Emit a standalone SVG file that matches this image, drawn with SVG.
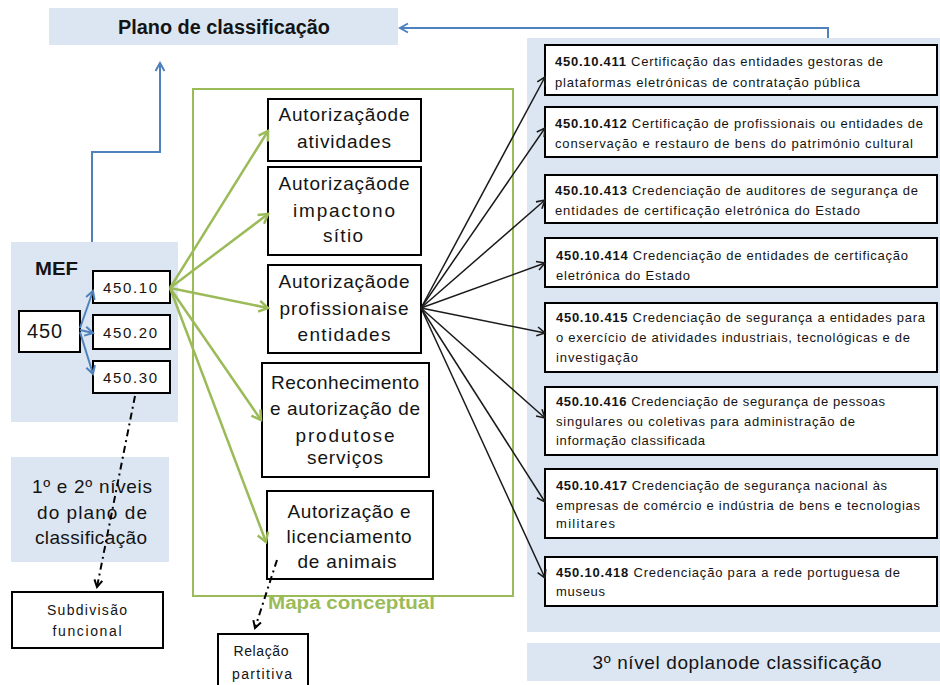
<svg xmlns="http://www.w3.org/2000/svg" width="940" height="685" viewBox="0 0 940 685">
<style>
 .t{font-family:"Liberation Sans",Arial,sans-serif;fill:#141414}
 .box{fill:#fff;stroke:#000;stroke-width:2}
 .panel{fill:#dce6f2}
 .node{font-size:19px;text-anchor:middle}
 .code{font-size:13px}
 .g{stroke:#9bbb59;stroke-width:2.5;fill:none}
 .k{stroke:#1a1a1a;stroke-width:1.5;fill:none}
 .b{stroke:#4f81bd;stroke-width:2;fill:none}
 .dd{stroke:#000;stroke-width:2;stroke-dasharray:7 4 2 4;fill:none}
</style>
<defs>
 <marker id="ag" markerUnits="userSpaceOnUse" markerWidth="14" markerHeight="14" refX="12" refY="7" orient="auto"><path d="M3,1.5 L12,7 L3,12.5" fill="none" stroke="#9bbb59" stroke-width="2.5"/></marker>
 <marker id="ak" markerUnits="userSpaceOnUse" markerWidth="12" markerHeight="12" refX="10" refY="6" orient="auto"><path d="M2,1.5 L10,6 L2,10.5" fill="none" stroke="#1a1a1a" stroke-width="1.6"/></marker>
 <marker id="ab" markerUnits="userSpaceOnUse" markerWidth="12" markerHeight="12" refX="10" refY="6" orient="auto"><path d="M2,1.5 L10,6 L2,10.5" fill="none" stroke="#4f81bd" stroke-width="2"/></marker>
 <marker id="ad" markerUnits="userSpaceOnUse" markerWidth="12" markerHeight="12" refX="10" refY="6" orient="auto"><path d="M3,2 L10,6 L3,10" fill="none" stroke="#000" stroke-width="2"/></marker>
</defs>
<rect width="940" height="685" fill="#fff"/>

<g id="plano">
 <rect class="panel" x="49" y="8" width="349" height="37"/>
 <text class="t" x="224" y="34" font-size="20" font-weight="bold" text-anchor="middle" textLength="212" lengthAdjust="spacingAndGlyphs">Plano de classificação</text>
</g>

<g id="mef">
 <rect class="panel" x="11" y="242" width="167" height="180"/>
 <text class="t" x="35" y="275" font-size="19" font-weight="bold" textLength="43" lengthAdjust="spacingAndGlyphs">MEF</text>
</g>

<g id="n450">
 <rect class="box" x="19" y="311" width="61" height="41"/>
 <text class="t" x="27" y="338" font-size="20" textLength="35">450</text>
</g>
<g id="n450-10">
 <rect class="box" x="93" y="271" width="77" height="32"/>
 <text class="t" x="103" y="293" font-size="15" textLength="54">450.10</text>
</g>
<g id="n450-20">
 <rect class="box" x="93" y="315" width="77" height="34"/>
 <text class="t" x="103" y="338" font-size="15" textLength="54">450.20</text>
</g>
<g id="n450-30">
 <rect class="box" x="93" y="361" width="77" height="32"/>
 <text class="t" x="103" y="383" font-size="15" textLength="54">450.30</text>
</g>

<g id="niveis12">
 <rect class="panel" x="11" y="457" width="158" height="105"/>
 <text class="t node" x="92" y="493" textLength="120">1º e 2º níveis</text>
 <text class="t node" x="92" y="519" textLength="110">do plano de</text>
 <text class="t node" x="91" y="544" textLength="112">classificação</text>
</g>

<g id="subdivisao">
 <rect class="box" x="12" y="592" width="151" height="56"/>
 <text class="t" x="87" y="615" font-size="14" text-anchor="middle" textLength="80">Subdivisão</text>
 <text class="t" x="87" y="636" font-size="14" text-anchor="middle" textLength="69">funcional</text>
</g>

<g id="mapa">
 <rect x="193" y="89" width="320" height="507" fill="none" stroke="#9bbb59" stroke-width="2"/>
 <text x="268" y="609" font-family="Liberation Sans,Arial,sans-serif" font-size="18" font-weight="bold" fill="#9bbb59" textLength="167" lengthAdjust="spacingAndGlyphs">Mapa conceptual</text>
</g>

<g id="c1">
 <rect class="box" x="268" y="99" width="153" height="62"/>
 <text class="t node" x="344" y="121" textLength="131">Autorizaçãode</text>
 <text class="t node" x="344" y="148" textLength="94">atividades</text>
</g>
<g id="c2">
 <rect class="box" x="268" y="167" width="153" height="88"/>
 <text class="t node" x="344" y="190" textLength="131">Autorizaçãode</text>
 <text class="t node" x="344" y="217" textLength="102">impactono</text>
 <text class="t node" x="343" y="242" textLength="40">sítio</text>
</g>
<g id="c3">
 <rect class="box" x="268" y="265" width="153" height="88"/>
 <text class="t node" x="344" y="288" textLength="131">Autorizaçãode</text>
 <text class="t node" x="344" y="315" textLength="129">profissionaise</text>
 <text class="t node" x="344" y="341" textLength="93">entidades</text>
</g>
<g id="c4">
 <rect class="box" x="262" y="363" width="167" height="114"/>
 <text class="t node" x="345" y="389" textLength="148">Reconhecimento</text>
 <text class="t node" x="345" y="415" textLength="150">e autorização de</text>
 <text class="t node" x="345" y="442" textLength="99">produtose</text>
 <text class="t node" x="345" y="464" textLength="76">serviços</text>
</g>
<g id="c5">
 <rect class="box" x="267" y="491" width="166" height="88"/>
 <text class="t node" x="349" y="518" textLength="123">Autorização e</text>
 <text class="t node" x="349" y="543" textLength="125">licenciamento</text>
 <text class="t node" x="347" y="568" textLength="99">de animais</text>
</g>

<g id="relacao">
 <rect class="box" x="218" y="634" width="90" height="62"/>
 <text class="t" x="261" y="656" font-size="14" text-anchor="middle" textLength="55">Relação</text>
 <text class="t" x="262" y="679" font-size="14" text-anchor="middle" textLength="60">partitiva</text>
</g>

<g id="nivel3-panel">
 <rect class="panel" x="527" y="38" width="413" height="594"/>
</g>

<g id="r411">
 <rect class="box" x="545" y="45" width="392" height="50"/>
 <text class="t code" x="555" y="66" textLength="328"><tspan font-weight="bold">450.10.411</tspan>  Certificação das entidades gestoras de</text>
 <text class="t code" x="555" y="87" textLength="305">plataformas eletrónicas de contratação pública</text>
</g>
<g id="r412">
 <rect class="box" x="545" y="107" width="392" height="50"/>
 <text class="t code" x="555" y="128" textLength="368"><tspan font-weight="bold">450.10.412</tspan>  Certificação de profissionais  ou entidades de</text>
 <text class="t code" x="555" y="148" textLength="358">conservação e restauro de bens do património cultural</text>
</g>
<g id="r413">
 <rect class="box" x="545" y="175" width="392" height="48"/>
 <text class="t code" x="555" y="195" textLength="363"><tspan font-weight="bold">450.10.413</tspan>  Credenciação de auditores de segurança de</text>
 <text class="t code" x="555" y="215" textLength="305">entidades de certificação eletrónica do Estado</text>
</g>
<g id="r414">
 <rect class="box" x="545" y="238" width="392" height="49"/>
 <text class="t code" x="556" y="260" textLength="352"><tspan font-weight="bold">450.10.414</tspan>  Credenciação de entidades de certificação</text>
 <text class="t code" x="556" y="280" textLength="134">eletrónica do Estado</text>
</g>
<g id="r415">
 <rect class="box" x="545" y="303" width="392" height="69"/>
 <text class="t code" x="556" y="322" textLength="369"><tspan font-weight="bold">450.10.415</tspan>  Credenciação de segurança a entidades para</text>
 <text class="t code" x="556" y="342" textLength="354">o exercício de atividades industriais, tecnológicas e de</text>
 <text class="t code" x="556" y="362" textLength="82">investigação</text>
</g>
<g id="r416">
 <rect class="box" x="545" y="387" width="392" height="68"/>
 <text class="t code" x="556" y="406" textLength="329"><tspan font-weight="bold">450.10.416</tspan>  Credenciação de segurança de pessoas</text>
 <text class="t code" x="556" y="426" textLength="299">singulares ou coletivas para administração de</text>
 <text class="t code" x="556" y="445" textLength="149">informação  classificada</text>
</g>
<g id="r417">
 <rect class="box" x="545" y="469" width="392" height="69"/>
 <text class="t code" x="556" y="490" textLength="331"><tspan font-weight="bold">450.10.417</tspan>  Credenciação de segurança nacional às</text>
 <text class="t code" x="556" y="510" textLength="364">empresas de comércio  e indústria de bens e tecnologias</text>
 <text class="t code" x="556" y="528" textLength="59">militares</text>
</g>
<g id="r418">
 <rect class="box" x="545" y="557" width="392" height="49"/>
 <text class="t code" x="556" y="577" textLength="344"><tspan font-weight="bold">450.10.418</tspan>  Credenciação para a rede portuguesa de</text>
 <text class="t code" x="556" y="596" textLength="49">museus</text>
</g>

<g id="nivel3">
 <rect class="panel" x="527" y="643" width="413" height="38"/>
 <text class="t" x="737" y="669" font-size="19" text-anchor="middle" textLength="289">3º nível doplanode classificação</text>
</g>

<g id="connectors">
 <path class="b" d="M828,38 L828,28 L400,28" marker-end="url(#ab)"/>
 <path class="b" d="M92,242 L92,152 L160,152 L160,63" marker-end="url(#ab)"/>
 <path class="b" d="M80,328 L93,291" marker-end="url(#ab)"/>
 <path class="b" d="M80,330 L93,333" marker-end="url(#ab)"/>
 <path class="b" d="M80,332 L93,374" marker-end="url(#ab)"/>

 <path class="g" d="M170,288 L268,131" marker-end="url(#ag)"/>
 <path class="g" d="M170,288 L268,214" marker-end="url(#ag)"/>
 <path class="g" d="M170,288 L268,308" marker-end="url(#ag)"/>
 <path class="g" d="M170,288 L261,420" marker-end="url(#ag)"/>
 <path class="g" d="M170,288 L266,542" marker-end="url(#ag)"/>

 <path class="k" d="M421,308 L545,77" marker-end="url(#ak)"/>
 <path class="k" d="M421,308 L545,128" marker-end="url(#ak)"/>
 <path class="k" d="M421,308 L545,200" marker-end="url(#ak)"/>
 <path class="k" d="M421,308 L545,263" marker-end="url(#ak)"/>
 <path class="k" d="M421,308 L545,333" marker-end="url(#ak)"/>
 <path class="k" d="M421,308 L545,418" marker-end="url(#ak)"/>
 <path class="k" d="M421,308 L545,502" marker-end="url(#ak)"/>
 <path class="k" d="M421,308 L545,578" marker-end="url(#ak)"/>

 <path class="dd" d="M135,396 L97,587" marker-end="url(#ad)"/>
 <path class="dd" d="M277,560 L255,628" marker-end="url(#ad)"/>
</g>
</svg>
